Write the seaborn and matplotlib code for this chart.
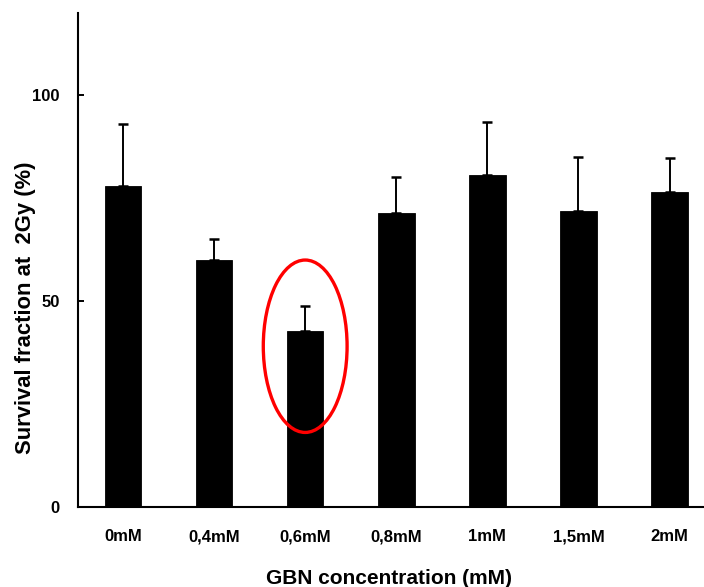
import numpy as np
import pandas as pd
import matplotlib
matplotlib.use("Agg")
import matplotlib.pyplot as plt
from matplotlib.patches import Ellipse
import seaborn as sns

# ---- data ----
categories = ["0mM", "0,4mM", "0,6mM", "0,8mM", "1mM", "1,5mM", "2mM"]
survival = [77.9, 60.0, 42.8, 71.4, 80.7, 71.8, 76.6]
errors = [15.2, 5.1, 6.1, 8.7, 12.8, 13.1, 8.1]
yticks = [0, 50, 100]
highlight_index = 2
highlight_center_y = 39.0
highlight_height = 41.9
highlight_width = 0.92

sns.set_theme(style="white")
plt.rcParams["font.family"] = ["Liberation Sans", "DejaVu Sans"]
plt.rcParams["font.weight"] = "bold"
plt.rcParams["text.color"] = "black"
plt.rcParams["axes.labelcolor"] = "black"
plt.rcParams["xtick.color"] = "black"
plt.rcParams["ytick.color"] = "black"

fig = plt.figure(figsize=(7.04, 5.87), dpi=100)
ax = fig.add_axes([0.1108, 0.1368, 0.8892, 0.8411])

df = pd.DataFrame({"cat": categories, "val": survival})
sns.barplot(data=df, x="cat", y="val", color="black", width=0.4,
            edgecolor="black", linewidth=0.6, saturation=1, ax=ax,
            errorbar=None)

x = np.arange(len(categories))
ax.errorbar(x, survival, yerr=[np.zeros(len(errors)), errors], fmt="none",
            ecolor="black", elinewidth=1.4, capsize=3.4, capthick=1.8, zorder=3)

ax.add_patch(Ellipse((highlight_index, highlight_center_y), highlight_width,
                     highlight_height, fill=False, edgecolor="#ff0000",
                     linewidth=2.4, zorder=4))

ax.set_xlim(-0.494, 6.378)
ax.set_ylim(0, 120)
ax.set_yticks(yticks)
ax.set_yticklabels([str(t) for t in yticks], fontsize=12, fontweight="bold",
                   color="black")
ax.set_xticks(x)
ax.set_xticklabels(categories, fontsize=12, fontweight="bold", color="black",
                   va="baseline")
ax.tick_params(axis="y", direction="in", length=4, width=1.4, pad=13, left=True)
ax.tick_params(axis="x", length=0, pad=25)

for s in ["top", "right"]:
    ax.spines[s].set_visible(False)
for s in ["left", "bottom"]:
    ax.spines[s].set_color("black")
    ax.spines[s].set_linewidth(1.5)

ax.set_xlabel("GBN concentration (mM)", fontsize=15, fontweight="bold",
              color="black", va="center")
ax.set_ylabel("Survival fraction at  2Gy (%)", fontsize=15.8, fontweight="bold",
              color="black", va="center")
ax.xaxis.set_label_coords((389 - 78) / 626.0, -(578 - 506.7) / 493.7)
ax.yaxis.set_label_coords(-(78 - 25) / 626.0, (506.7 - 308) / 493.7)
ax.set_facecolor("white")
fig.patch.set_facecolor("white")

fig.savefig("out.png", dpi=100, facecolor="white")
